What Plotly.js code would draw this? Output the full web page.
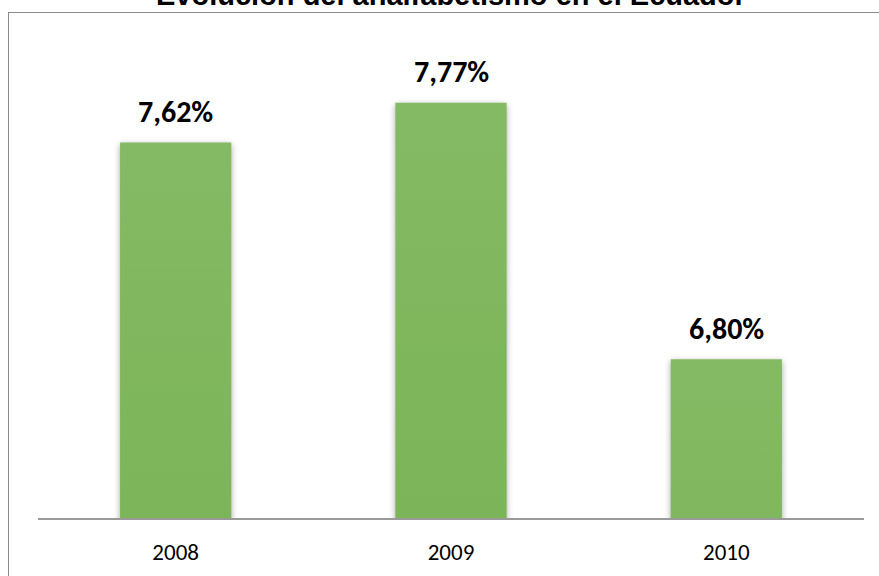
<!DOCTYPE html>
<html>
<head>
<meta charset="utf-8">
<script src="https://cdn.plot.ly/plotly-3.0.1.min.js"></script>
<style>
  html, body { margin:0; padding:0; width:879px; height:576px; overflow:hidden; background:#fff; }
  #frame { position:absolute; left:8px; top:12px; width:900px; height:600px; border:1px solid #8c8c8c; box-sizing:border-box; }
  #chart { position:absolute; left:0; top:0; width:879px; height:576px; }
</style>
</head>
<body>
<div id="frame"></div>
<div id="chart"></div>
<script>
const years = ['2008', '2009', '2010'];
const rates = [7.62, 7.77, 6.80];
const chartTitle = 'Evolución del analfabetismo en el Ecuador';

const labelFont = 'Carlito, Calibri, Lato, sans-serif';

const trace = {
  type: 'bar',
  x: years,
  y: rates,
  marker: { color: '#70ad47', line: { width: 0 } },
  hoverinfo: 'skip'
};

const annotations = years.map((yr, i) => ({
  x: i, y: rates[i], xref: 'x', yref: 'y',
  text: '<b>' + rates[i].toFixed(2).replace('.', ',') + '%</b>',
  showarrow: false, yanchor: 'middle', yshift: 31,
  font: { family: labelFont, size: 30, color: '#000' }
}));
annotations.push({
  x: 0.5, y: 1.0977, xref: 'paper', yref: 'paper',
  text: '<b>' + chartTitle + '</b>', showarrow: false,
  xanchor: 'center', yanchor: 'middle',
  font: { family: 'Liberation Sans, Arial, sans-serif', size: 29, color: '#000' }
});

const layout = {
  width: 879, height: 576,
  margin: { l: 38, r: 15, t: 42, b: 58 },
  paper_bgcolor: 'rgba(0,0,0,0)',
  plot_bgcolor: 'rgba(0,0,0,0)',
  showlegend: false,
  bargap: 0.596,
  xaxis: {
    type: 'category',
    range: [-0.5, 2.5], autorange: false,
    categoryorder: 'array', categoryarray: years,
    showline: true, linecolor: '#9a9a9a', linewidth: 2,
    showgrid: false, zeroline: false, ticks: '',
    ticklabelstandoff: 12,
    tickfont: { family: labelFont, size: 23, color: '#000' }
  },
  yaxis: {
    range: [6.2, 8.0], autorange: false, visible: false, showgrid: false, zeroline: false, fixedrange: true
  },
  annotations: annotations
};

function applyGradient(gd) {
  const svg = gd.querySelector('svg.main-svg');
  const ns = 'http://www.w3.org/2000/svg';
  if (!svg.querySelector('#barGrad')) {
    let defs = svg.querySelector('defs');
    if (!defs) { defs = document.createElementNS(ns, 'defs'); svg.insertBefore(defs, svg.firstChild); }
    const grad = document.createElementNS(ns, 'linearGradient');
    grad.setAttribute('id', 'barGrad');
    grad.setAttribute('x1', '0'); grad.setAttribute('y1', '0');
    grad.setAttribute('x2', '0'); grad.setAttribute('y2', '1');
    [['0%', '#84ba63'], ['100%', '#5c9e2f']].forEach(([o, c]) => {
      const s = document.createElementNS(ns, 'stop');
      s.setAttribute('offset', o); s.setAttribute('stop-color', c);
      grad.appendChild(s);
    });
    defs.appendChild(grad);
  }
  gd.querySelectorAll('.bars .point path').forEach(p => {
    p.style.setProperty('fill', 'url(#barGrad)', 'important');
    p.style.filter = 'drop-shadow(0px 2px 3px rgba(0,0,0,0.35))';
  });
}

const gd = document.getElementById('chart');
Plotly.newPlot(gd, [trace], layout, { staticPlot: true, displayModeBar: false });
applyGradient(gd);
</script>
</body>
</html>
